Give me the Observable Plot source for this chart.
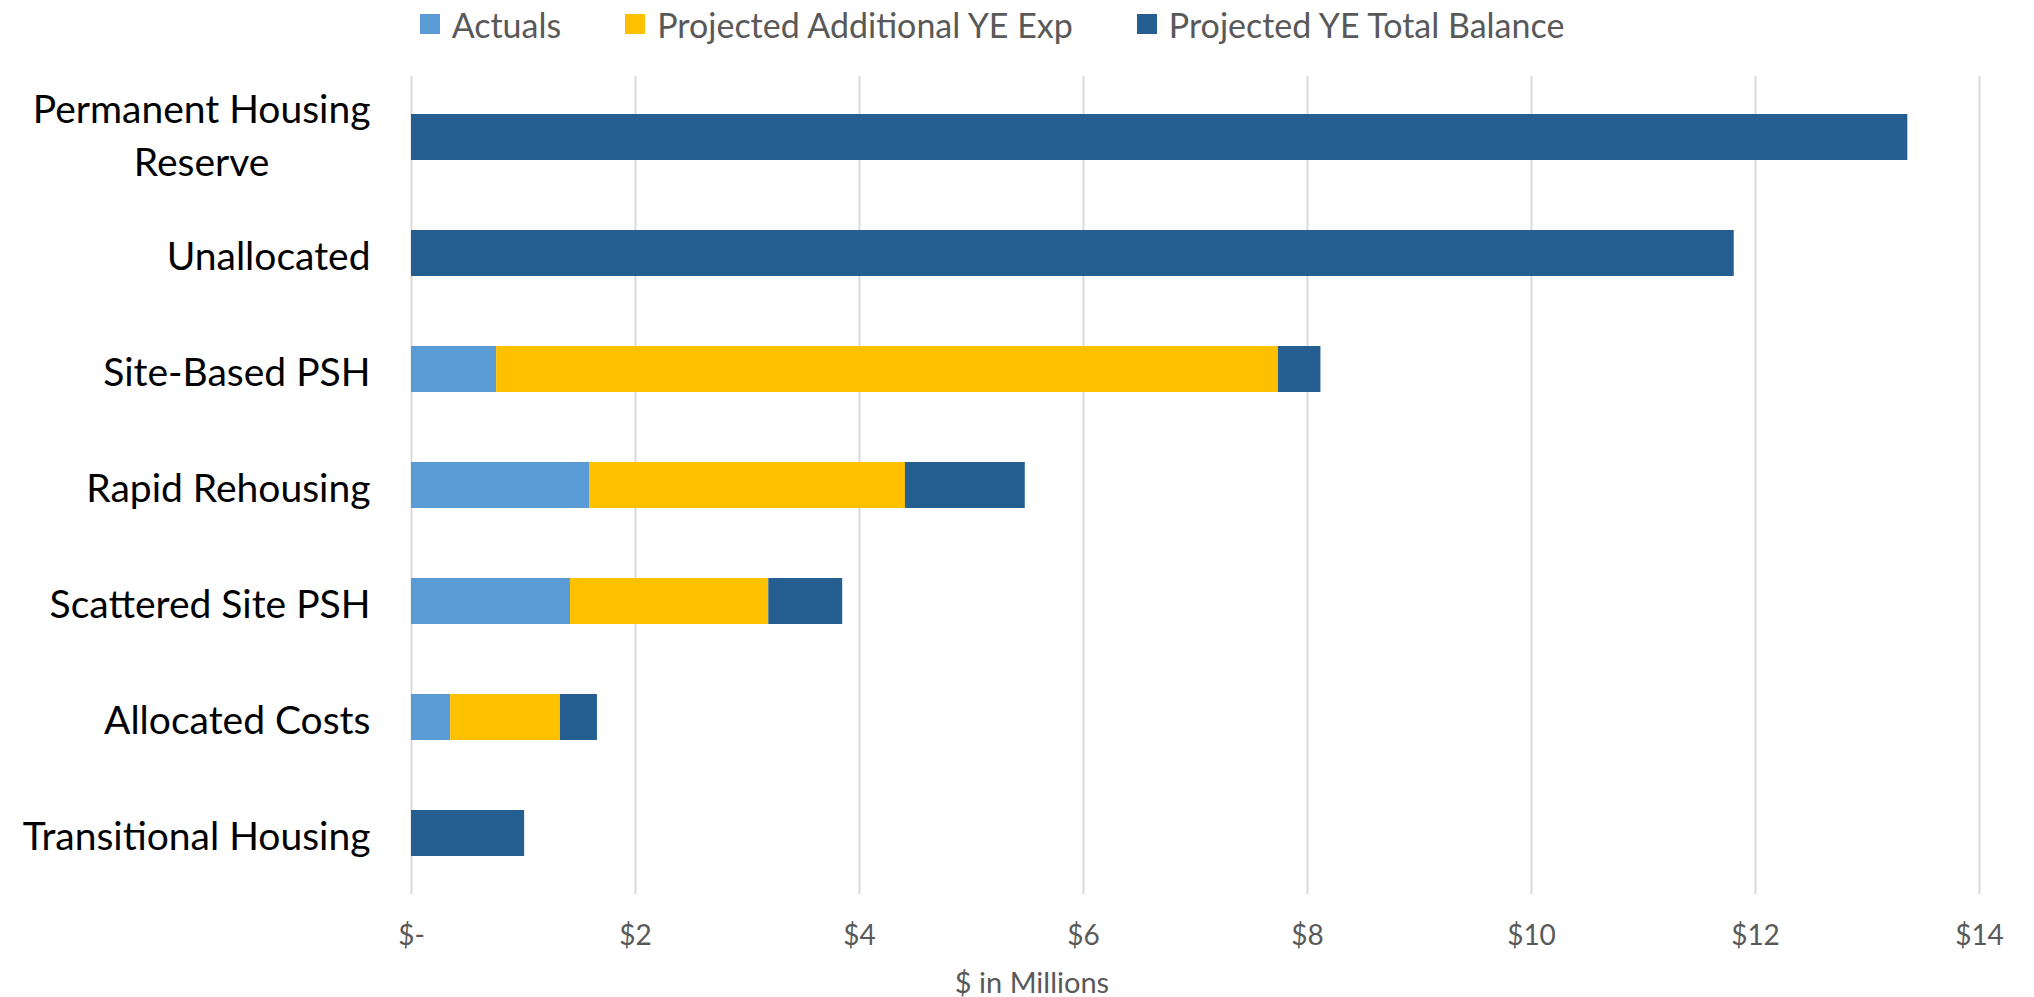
<!DOCTYPE html>
<html>
<head>
<meta charset="utf-8">
<script src="https://cdn.jsdelivr.net/npm/d3@7"></script>
<script src="https://cdn.jsdelivr.net/npm/@observablehq/plot@0.6"></script>
<style>
  html, body { margin: 0; padding: 0; background: #fff; }
  body { width: 2034px; height: 997px; overflow: hidden; font-family: Lato, "Open Sans", sans-serif; }
  #legend { height: 48px; display: flex; justify-content: center; align-items: center; padding-right: 50px; box-sizing: border-box; }
  .item { display: flex; align-items: center; margin: 0 32px; font-size: 34px; color: #595959; }
  .sw { width: 20px; height: 20px; margin-right: 12px; }
  #caption { height: 39px; line-height: 48px; text-align: center; font-size: 29px; color: #595959; padding-left: 30px; box-sizing: border-box; }
</style>
</head>
<body>
<div id="legend"></div>
<div id="chart"></div>
<div id="caption">$ in Millions</div>
<script>
const categories = ["Permanent Housing Reserve", "Unallocated", "Site-Based PSH", "Rapid Rehousing", "Scattered Site PSH", "Allocated Costs", "Transitional Housing"];
const categoryLabels = ["Permanent Housing\nReserve", "Unallocated", "Site-Based PSH", "Rapid Rehousing", "Scattered Site PSH", "Allocated Costs", "Transitional Housing"];
const seriesNames = ["Actuals", "Projected Additional YE Exp", "Projected YE Total Balance"];
const seriesColors = ["#5B9BD5", "#FFC000", "#255E91"];
const actuals = [0, 0, 0.76, 1.59, 1.42, 0.35, 0];
const projectedAdditional = [0, 0, 6.98, 2.82, 1.77, 0.98, 0];
const totalBalance = [13.36, 11.81, 0.38, 1.07, 0.66, 0.33, 1.01];
const xTicks = [0, 2, 4, 6, 8, 10, 12, 14];

const seriesValues = [actuals, projectedAdditional, totalBalance];
const rows = [];
categories.forEach((c, i) => {
  seriesNames.forEach((s, j) => rows.push({category: c, series: s, value: seriesValues[j][i]}));
});

// legend
const legend = document.getElementById("legend");
seriesNames.forEach((s, j) => {
  const it = document.createElement("div");
  it.className = "item";
  const sw = document.createElement("span");
  sw.className = "sw";
  sw.style.background = seriesColors[j];
  const tx = document.createElement("span");
  tx.textContent = s;
  it.append(sw, tx);
  legend.append(it);
});

const chart = Plot.plot({
  width: 2034,
  height: 910,
  marginTop: 28,
  marginBottom: 64,
  marginLeft: 411,
  marginRight: 55,
  style: {fontFamily: "Lato, 'Open Sans', sans-serif", background: "white", overflow: "visible"},
  x: {domain: [0, 14], ticks: xTicks},
  y: {domain: categories, paddingInner: 0.6, paddingOuter: 0.3},
  color: {domain: seriesNames, range: seriesColors},
  marks: [
    Plot.gridX(xTicks, {stroke: "#d9d9d9", strokeOpacity: 1, strokeWidth: 2}),
    Plot.barX(rows, {y: "category", x: "value", fill: "series"}),
    Plot.axisX({ticks: xTicks, tickSize: 0, tickPadding: 31, fontSize: 28, color: "#595959", label: null,
      tickFormat: d => d === 0 ? "$-" : "$" + d}),
    Plot.axisY({tickSize: 0, tickPadding: 41, fontSize: 39, color: "#000", label: null, lineHeight: 1.36,
      tickFormat: d => categoryLabels[categories.indexOf(d)]})
  ]
});
document.getElementById("chart").append(chart);

// center the lines of multi-line category labels on each other (as in the original)
chart.querySelectorAll("text").forEach(t => {
  if (t.querySelectorAll("tspan").length > 1) {
    const w = t.getBBox().width;
    t.setAttribute("text-anchor", "middle");
    const tr = t.getAttribute("transform") || "";
    t.setAttribute("transform", tr + ` translate(${-w / 2},-5)`);
  }
});
</script>
</body>
</html>
